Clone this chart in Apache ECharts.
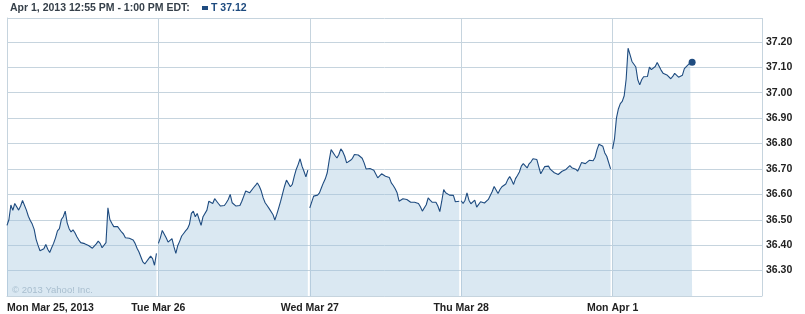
<!DOCTYPE html>
<html>
<head>
<meta charset="utf-8">
<script src="https://cdn.jsdelivr.net/npm/echarts@6/dist/echarts.min.js"></script>
<style>
html,body{margin:0;padding:0;background:#fff;}
#chart{width:805px;height:314px;}
</style>
</head>
<body>
<div id="chart"></div>
<script>
// ---- data ----
const dayLabels = ['Mon Mar 25, 2013', 'Tue Mar 26', 'Wed Mar 27', 'Thu Mar 28', 'Mon Apr 1'];
const slotsPerDay = 78; // 5-minute slots 9:30 .. 15:55
const yTickLabels = ['36.30','36.40','36.50','36.60','36.70','36.80','36.90','37.00','37.10','37.20'];
const headerText = 'Apr 1, 2013 12:55 PM - 1:00 PM EDT:';
const symbolName = 'T';
const lastPrice = '37.12';
const copyright = '\u00A9 2013 Yahoo! Inc.';

const mar25 = [
36.478, 36.501, 36.558, 36.537, 36.564, 36.567, 36.538, 36.554, 36.576, 36.573,
36.538, 36.514, 36.497, 36.483, 36.462, 36.423, 36.399, 36.378, 36.376, 36.386,
36.403, 36.384, 36.371, 36.390, 36.407, 36.429, 36.456, 36.465, 36.501, 36.512,
36.534, 36.488, 36.465, 36.452, 36.460, 36.449, 36.433, 36.420, 36.410, 36.407,
36.406, 36.401, 36.399, 36.394, 36.388, 36.390, 36.405, 36.416, 36.407, 36.390,
36.389, 36.410, 36.547, 36.501, 36.486, 36.473, 36.475, 36.473, 36.475, 36.452,
36.444, 36.429, 36.426, 36.427, 36.425, 36.420, 36.407, 36.388, 36.373, 36.371,
36.334, 36.326, 36.321, 36.347, 36.357, 36.347, 36.321, 36.368];
const mar26 = [
36.407, 36.429, 36.458, 36.456, 36.429, 36.412, 36.407, 36.426, 36.394, 36.368,
36.399, 36.416, 36.436, 36.446, 36.456, 36.465, 36.482, 36.525, 36.534, 36.512,
36.525, 36.501, 36.478, 36.512, 36.514, 36.538, 36.573, 36.567, 36.564, 36.583,
36.573, 36.563, 36.554, 36.556, 36.556, 36.567, 36.580, 36.600, 36.567, 36.563,
36.554, 36.547, 36.556, 36.573, 36.593, 36.613, 36.619, 36.606, 36.613, 36.626,
36.635, 36.645, 36.632, 36.613, 36.586, 36.567, 36.556, 36.545, 36.538, 36.521,
36.499, 36.521, 36.547, 36.573, 36.603, 36.632, 36.656, 36.652, 36.630, 36.639,
36.671, 36.698, 36.717, 36.740, 36.711, 36.691, 36.669, 36.695];
const mar27 = [
36.547, 36.541, 36.593, 36.600, 36.597, 36.606, 36.626, 36.645, 36.661, 36.685,
36.734, 36.776, 36.776, 36.753, 36.743, 36.757, 36.779, 36.768, 36.750, 36.724,
36.729, 36.734, 36.742, 36.757, 36.750, 36.755, 36.750, 36.742, 36.724, 36.700,
36.704, 36.702, 36.699, 36.695, 36.688, 36.665, 36.658, 36.681, 36.681, 36.671,
36.668, 36.666, 36.645, 36.635, 36.622, 36.606, 36.573, 36.577, 36.583, 36.586,
36.580, 36.576, 36.569, 36.573, 36.569, 36.568, 36.564, 36.551, 36.534, 36.538,
36.559, 36.586, 36.577, 36.569, 36.569, 36.569, 36.554, 36.532, 36.573, 36.619,
36.606, 36.613, 36.597, 36.602, 36.596, 36.571, 36.577, 36.573];
const mar28 = [
36.575, 36.564, 36.577, 36.606, 36.577, 36.563, 36.567, 36.577, 36.550, 36.556,
36.571, 36.571, 36.566, 36.571, 36.580, 36.579, 36.611, 36.631, 36.626, 36.603,
36.619, 36.630, 36.630, 36.641, 36.658, 36.670, 36.656, 36.639, 36.662, 36.674,
36.688, 36.711, 36.721, 36.717, 36.704, 36.720, 36.728, 36.740, 36.746, 36.737,
36.708, 36.681, 36.695, 36.709, 36.715, 36.711, 36.698, 36.691, 36.685, 36.678,
36.678, 36.681, 36.691, 36.688, 36.698, 36.705, 36.713, 36.705, 36.703, 36.699,
36.691, 36.707, 36.725, 36.726, 36.721, 36.725, 36.734, 36.729, 36.732, 36.746,
36.776, 36.797, 36.802, 36.789, 36.763, 36.750, 36.753, 36.700];
const apr1 = [
36.779, 36.818, 36.900, 36.936, 36.957, 36.966, 36.988, 37.053, 37.175, 37.150,
37.123, 37.116, 37.101, 37.051, 37.031, 37.051, 37.063, 37.069, 37.064, 37.101,
37.091, 37.084, 37.103, 37.119, 37.116, 37.089, 37.077, 37.074, 37.070, 37.063,
37.055, 37.064, 37.076, 37.077, 37.061, 37.057, 37.069, 37.095, 37.103, 37.110,
37.118, 37.120];

const dayValues = [mar25, mar26, mar27, mar28, apr1];

// ---- styles ----
const LINE = '#1f4c80';
const GRID = '#c6d4de';
const TXT = '#222222';
const FONT = '"Liberation Sans", Arial, sans-serif';

const series = dayValues.map(function (vals, d) {
  const data = vals.map(function (v, i) {
    const item = { value: [d * slotsPerDay + i, v] };
    if (d === dayValues.length - 1 && i === vals.length - 1) {
      item.symbol = 'circle';
      item.symbolSize = 7;
    }
    return item;
  });
  return {
    type: 'line',
    data: data,
    symbol: 'none',
    showSymbol: true,
    lineStyle: { color: LINE, width: 1.1 },
    itemStyle: { color: LINE },
    areaStyle: { color: 'rgba(160,194,222,0.55)', origin: 'start' },
    silent: true,
    animation: false
  };
});

const chart = echarts.init(document.getElementById('chart'), null, { renderer: 'canvas' });
chart.setOption({
  animation: false,
  grid: { left: 7, right: 43, top: 18, bottom: 17, containLabel: false },
  xAxis: {
    type: 'value',
    min: 0,
    max: slotsPerDay * dayLabels.length - 1,
    interval: slotsPerDay,
    axisLine: { show: true, lineStyle: { color: GRID, width: 1 } },
    axisTick: { show: false },
    splitLine: { show: true, lineStyle: { color: GRID, width: 1 } },
    axisLabel: {
      margin: 7,
      color: TXT,
      fontFamily: FONT,
      fontWeight: 'bold',
      fontSize: 10.5,
      alignMinLabel: 'left',
      formatter: function (val) {
        const d = val / slotsPerDay;
        return (Number.isInteger(d) && d < dayLabels.length) ? dayLabels[d] : '';
      }
    }
  },
  yAxis: {
    type: 'value',
    position: 'right',
    min: 36.2,
    max: 37.294,
    interval: 0.1,
    axisLine: { show: true, lineStyle: { color: GRID, width: 1 } },
    axisTick: { show: true, length: 3, lineStyle: { color: GRID } },
    splitLine: { show: true, lineStyle: { color: GRID, width: 1 } },
    axisLabel: {
      margin: 4,
      color: TXT,
      fontFamily: FONT,
      fontWeight: 'bold',
      fontSize: 10.5,
      showMinLabel: true,
      showMaxLabel: true,
      formatter: function (val) {
        const s = val.toFixed(2);
        return yTickLabels.indexOf(s) >= 0 ? s : '';
      }
    }
  },
  graphic: [
    { type: 'text', left: 10, top: 3, style: { text: headerText, fill: '#36404a', font: 'bold 10.5px ' + FONT } },
    { type: 'rect', left: 202, top: 6, shape: { width: 6, height: 4 }, style: { fill: LINE } },
    { type: 'text', left: 211, top: 3, style: { text: symbolName + ' ' + lastPrice, fill: '#1d4a7e', font: 'bold 10.5px ' + FONT } },
    { type: 'text', left: 12, top: 285, style: { text: copyright, fill: '#aebbc6', font: '9.5px ' + FONT } }
  ],
  series: series
});
</script>
</body>
</html>
